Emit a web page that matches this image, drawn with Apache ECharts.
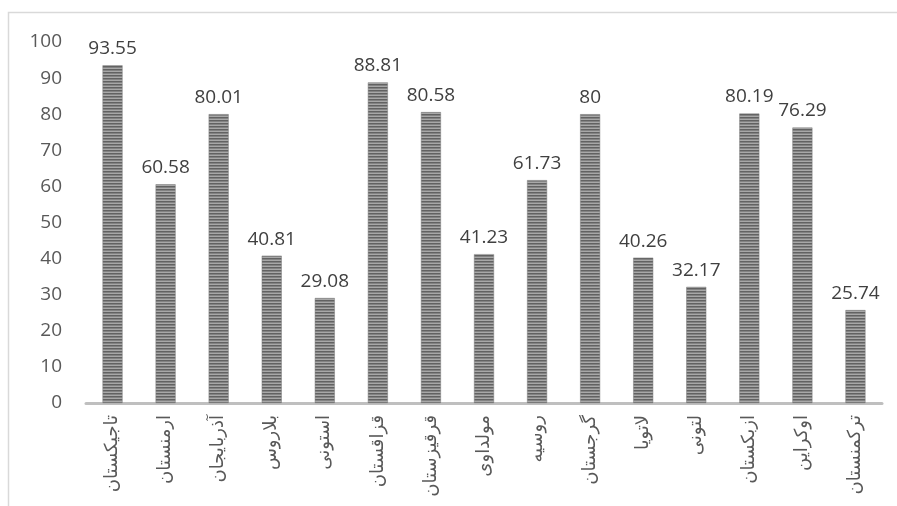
<!DOCTYPE html>
<html>
<head>
<meta charset="utf-8">
<script src="https://cdn.jsdelivr.net/npm/echarts@6/dist/echarts.min.js"></script>
<style>
html,body{margin:0;padding:0;background:#fff;}
#c{width:897px;height:506px;}
</style>
</head>
<body>
<div id="c"></div>
<script>
const categories = ['تاجیکستان','ارمنستان','آذربایجان','بلاروس','استونی','قزاقستان','قرقیزستان','مولداوی','روسیه','گرجستان','لاتویا','لتونی','ازبکستان','اوکراین','ترکمنستان'];
const values = [93.55, 60.58, 80.01, 40.81, 29.08, 88.81, 80.58, 41.23, 61.73, 80, 40.26, 32.17, 80.19, 76.29, 25.74];
const yTicks = [0,10,20,30,40,50,60,70,80,90,100];

const pc = document.createElement('canvas');
pc.width = 4; pc.height = 3;
const ctx = pc.getContext('2d');
ctx.fillStyle = '#626262'; ctx.fillRect(0,0,4,1);
ctx.fillStyle = '#838383'; ctx.fillRect(0,1,4,1);
ctx.fillStyle = '#a8a8a8'; ctx.fillRect(0,2,4,1);

const chart = echarts.init(document.getElementById('c'), null, {renderer:'canvas'});
chart.setOption({
  animation:false,
  backgroundColor:'#ffffff',
  graphic:[{type:'rect',shape:{x:8.5,y:12.5,width:1000,height:600},style:{fill:'none',stroke:'#d9d9d9',lineWidth:1.5},silent:true}],
  grid:{left:86,right:15,top:42,bottom:103},
  xAxis:{
    type:'category',
    data:categories,
    axisLine:{lineStyle:{color:'#bfbfbf',width:3}},
    axisTick:{show:false},
    axisLabel:{rotate:90,interval:0,fontSize:18,color:'#595959',fontFamily:'DejaVu Sans',margin:12}
  },
  yAxis:{
    type:'value',min:0,max:100,interval:10,
    splitLine:{show:false},
    axisLine:{show:false},
    axisTick:{show:false},
    axisLabel:{fontSize:19,color:'#595959',fontFamily:'Open Sans, Noto Sans',margin:24,
      formatter:function(v){return yTicks.indexOf(v)>=0?String(v):'';}}
  },
  series:[{
    type:'bar',
    data:values,
    barWidth:20,
    itemStyle:{color:{image:pc,repeat:'repeat'},borderColor:'#7a7a7a',borderWidth:0.5},
    label:{show:true,position:'top',distance:7,fontSize:19,color:'#404040',fontFamily:'Open Sans, Noto Sans'}
  }]
});
</script>
</body>
</html>
